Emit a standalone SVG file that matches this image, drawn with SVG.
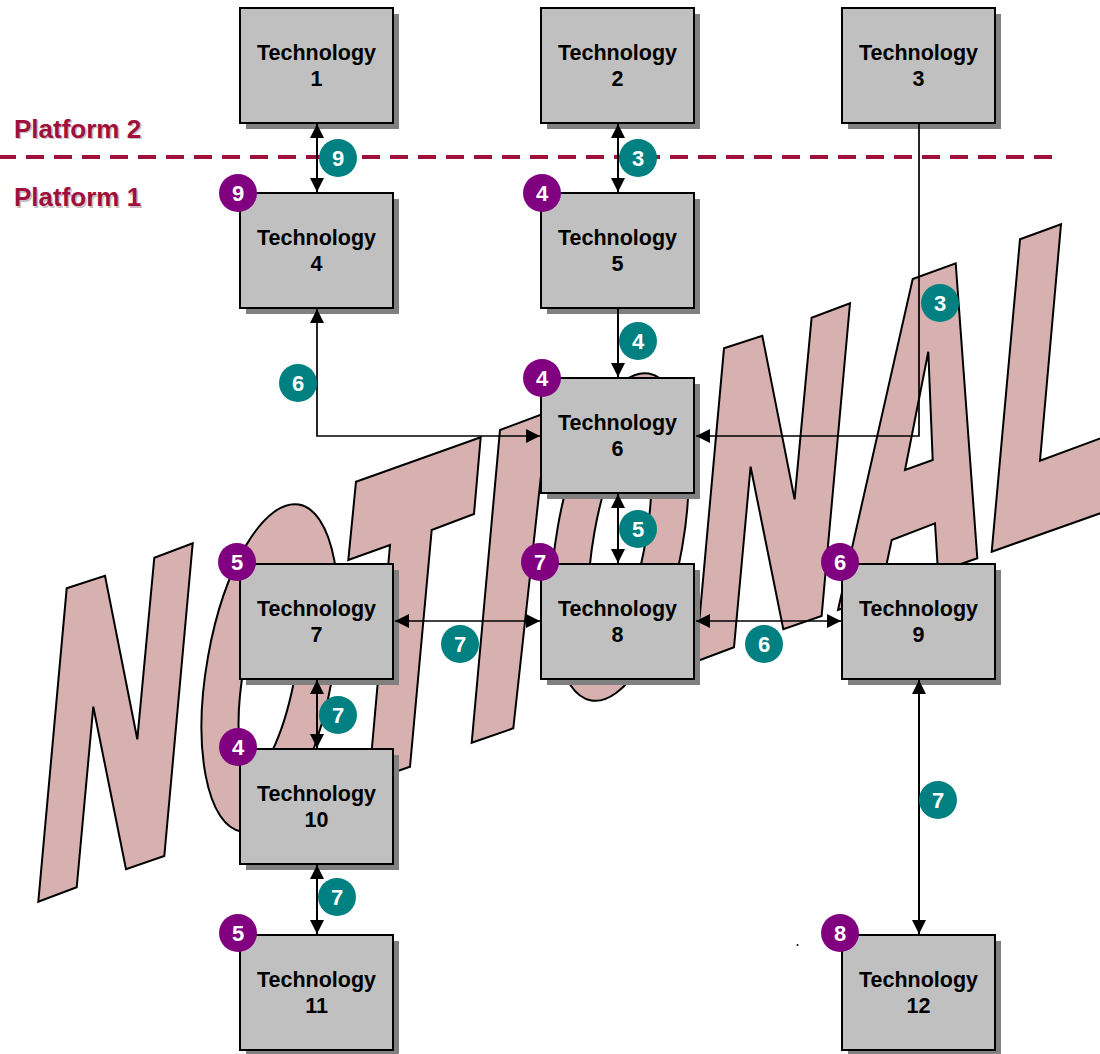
<svg xmlns="http://www.w3.org/2000/svg" width="1100" height="1054" viewBox="0 0 1100 1054">
<style>
.letter{fill:#D7B1B0;stroke:#000;stroke-width:2;stroke-linejoin:miter;fill-rule:evenodd}
.shadow{fill:#808080}
.box{fill:#C0C0C0;stroke:#000;stroke-width:2}
.t{font-family:"Liberation Sans",Arial,sans-serif;font-weight:bold;font-size:21.5px;text-anchor:middle;fill:#000}
.conn{stroke:#000;stroke-width:2;fill:none}
.thin{stroke-width:1.7}
.teal{fill:#008080}
.purple{fill:#800080}
.bn{font-family:"Liberation Sans",Arial,sans-serif;font-weight:bold;font-size:22px;text-anchor:middle;fill:#fff}
.plat{font-family:"Liberation Sans",Arial,sans-serif;font-weight:bold;font-size:26px;fill:#A0103A}
.platsh{font-family:"Liberation Sans",Arial,sans-serif;font-weight:bold;font-size:26px;fill:#C8C0C2}
</style>
<defs>
<marker id="ah" viewBox="0 0 14 14" refX="14" refY="7" markerWidth="14" markerHeight="14" markerUnits="userSpaceOnUse" orient="auto-start-reverse">
<path d="M0,0L14,7L0,14z" fill="#000"/>
</marker>
</defs>
<rect width="1100" height="1054" fill="#fff"/>

<g id="watermark">
<path class="letter" d="M66.7,588.3L105,575.7L137.3,739.3L154.3,557.7L192.7,543.3L164.3,856L126,869.3L93.3,706.7L76.7,887.3L38.3,901.7Z"/>
<path class="letter" transform="rotate(10 270 668)" d="M270,502A63,166 0 1,0 270,834A63,166 0 1,0 270,502ZM270,563A26,105 0 1,0 270,773A26,105 0 1,0 270,563Z"/>
<path class="letter" d="M356,481.7L480.7,437.3L474,514L431.7,530L410,766.7L369,781L390,545L348.3,560Z"/>
<path class="letter" d="M500,430L548,412L513.3,728.3L471.7,742.7Z"/>
<path class="letter" transform="translate(350,-131) rotate(10 270 668)" d="M270,502A63,166 0 1,0 270,834A63,166 0 1,0 270,502ZM270,563A26,105 0 1,0 270,773A26,105 0 1,0 270,563Z"/>
<path class="letter" d="M724,348.3L762.3,335.7L794.6,499.3L811.6,317.7L850,303.3L821.6,616L783.3,629.3L750.6,466.7L734,647.3L695.6,661.7Z"/>
<path class="letter" d="M912.7,279L955.7,263.3L977.3,558.3L938,572L935,523.3L891.7,540L880,595L838,610ZM928.3,351.7L932.7,460L905,470Z"/>
<path class="letter" d="M1020,239.3L1061,224.3L1040,460.7L1104,437L1104,512L991.7,551.7Z"/>
</g>

<g id="platforms">
<line x1="0" y1="157" x2="1056" y2="157" stroke="#A0103A" stroke-width="4" stroke-dasharray="18 10" stroke-dashoffset="2"/>
<text class="platsh" x="15.5" y="139">Platform 2</text>
<text class="plat" x="14" y="137.5">Platform 2</text>
<text class="platsh" x="15.5" y="207.5">Platform 1</text>
<text class="plat" x="14" y="206">Platform 1</text>
</g>

<g id="tech1"><rect class="shadow" x="246" y="14" width="153" height="115"/><rect class="box" x="240" y="8" width="153" height="115"/><text class="t" x="316.5" y="60">Technology</text><text class="t" x="316.5" y="86">1</text></g>
<g id="tech2"><rect class="shadow" x="547" y="14" width="153" height="115"/><rect class="box" x="541" y="8" width="153" height="115"/><text class="t" x="617.5" y="60">Technology</text><text class="t" x="617.5" y="86">2</text></g>
<g id="tech3"><rect class="shadow" x="848" y="14" width="153" height="115"/><rect class="box" x="842" y="8" width="153" height="115"/><text class="t" x="918.5" y="60">Technology</text><text class="t" x="918.5" y="86">3</text></g>
<g id="tech4"><rect class="shadow" x="246" y="199" width="153" height="115"/><rect class="box" x="240" y="193" width="153" height="115"/><text class="t" x="316.5" y="245">Technology</text><text class="t" x="316.5" y="271">4</text><circle class="purple" cx="238" cy="193" r="19"/><text class="bn" x="238" y="201">9</text></g>
<g id="tech5"><rect class="shadow" x="547" y="199" width="153" height="115"/><rect class="box" x="541" y="193" width="153" height="115"/><text class="t" x="617.5" y="245">Technology</text><text class="t" x="617.5" y="271">5</text><circle class="purple" cx="542" cy="193" r="19"/><text class="bn" x="542" y="201">4</text></g>
<g id="tech6"><rect class="shadow" x="547" y="384" width="153" height="115"/><rect class="box" x="541" y="378" width="153" height="115"/><text class="t" x="617.5" y="430">Technology</text><text class="t" x="617.5" y="456">6</text><circle class="purple" cx="542" cy="378" r="19"/><text class="bn" x="542" y="386">4</text></g>
<g id="tech7"><rect class="shadow" x="246" y="570" width="153" height="115"/><rect class="box" x="240" y="564" width="153" height="115"/><text class="t" x="316.5" y="616">Technology</text><text class="t" x="316.5" y="642">7</text><circle class="purple" cx="237" cy="562" r="19"/><text class="bn" x="237" y="570">5</text></g>
<g id="tech8"><rect class="shadow" x="547" y="570" width="153" height="115"/><rect class="box" x="541" y="564" width="153" height="115"/><text class="t" x="617.5" y="616">Technology</text><text class="t" x="617.5" y="642">8</text><circle class="purple" cx="540" cy="562" r="19"/><text class="bn" x="540" y="570">7</text></g>
<g id="tech9"><rect class="shadow" x="848" y="570" width="153" height="115"/><rect class="box" x="842" y="564" width="153" height="115"/><text class="t" x="918.5" y="616">Technology</text><text class="t" x="918.5" y="642">9</text><circle class="purple" cx="840" cy="562" r="19"/><text class="bn" x="840" y="570">6</text></g>
<g id="tech10"><rect class="shadow" x="246" y="755" width="153" height="115"/><rect class="box" x="240" y="749" width="153" height="115"/><text class="t" x="316.5" y="801">Technology</text><text class="t" x="316.5" y="827">10</text><circle class="purple" cx="238" cy="747" r="19"/><text class="bn" x="238" y="755">4</text></g>
<g id="tech11"><rect class="shadow" x="246" y="941" width="153" height="115"/><rect class="box" x="240" y="935" width="153" height="115"/><text class="t" x="316.5" y="987">Technology</text><text class="t" x="316.5" y="1013">11</text><circle class="purple" cx="238" cy="933" r="19"/><text class="bn" x="238" y="941">5</text></g>
<g id="tech12"><rect class="shadow" x="848" y="941" width="153" height="115"/><rect class="box" x="842" y="935" width="153" height="115"/><text class="t" x="918.5" y="987">Technology</text><text class="t" x="918.5" y="1013">12</text><circle class="purple" cx="840" cy="933" r="19"/><text class="bn" x="840" y="941">8</text></g>

<g id="connectors">
<line class="conn" x1="317" y1="124" x2="317" y2="192" marker-start="url(#ah)" marker-end="url(#ah)"/>
<line class="conn" x1="618" y1="124" x2="618" y2="192" marker-start="url(#ah)" marker-end="url(#ah)"/>
<polyline class="conn thin" points="919,124 919,436 696,436" marker-end="url(#ah)"/>
<line class="conn" x1="618" y1="309" x2="618" y2="377" marker-end="url(#ah)"/>
<polyline class="conn thin" points="317,309 317,436 540,436" marker-start="url(#ah)" marker-end="url(#ah)"/>
<line class="conn" x1="618" y1="494" x2="618" y2="563" marker-start="url(#ah)" marker-end="url(#ah)"/>
<line class="conn thin" x1="395" y1="621" x2="540" y2="621" marker-start="url(#ah)" marker-end="url(#ah)"/>
<line class="conn thin" x1="696" y1="621" x2="841" y2="621" marker-start="url(#ah)" marker-end="url(#ah)"/>
<line class="conn" x1="317" y1="680" x2="317" y2="748" marker-start="url(#ah)" marker-end="url(#ah)"/>
<line class="conn" x1="317" y1="865" x2="317" y2="934" marker-start="url(#ah)" marker-end="url(#ah)"/>
<line class="conn" x1="919" y1="680" x2="919" y2="934" marker-start="url(#ah)" marker-end="url(#ah)"/>
</g>

<g id="connector-labels">
<circle class="teal" cx="338" cy="158" r="19"/><text class="bn" x="338" y="166">9</text>
<circle class="teal" cx="638" cy="158" r="19"/><text class="bn" x="638" y="166">3</text>
<circle class="teal" cx="940" cy="303" r="19"/><text class="bn" x="940" y="311">3</text>
<circle class="teal" cx="638" cy="341" r="19"/><text class="bn" x="638" y="349">4</text>
<circle class="teal" cx="298" cy="383" r="19"/><text class="bn" x="298" y="391">6</text>
<circle class="teal" cx="638" cy="529" r="19"/><text class="bn" x="638" y="537">5</text>
<circle class="teal" cx="460" cy="644" r="19"/><text class="bn" x="460" y="652">7</text>
<circle class="teal" cx="764" cy="644" r="19"/><text class="bn" x="764" y="652">6</text>
<circle class="teal" cx="338" cy="715" r="19"/><text class="bn" x="338" y="723">7</text>
<circle class="teal" cx="938" cy="800" r="19"/><text class="bn" x="938" y="808">7</text>
<circle class="teal" cx="337" cy="897" r="19"/><text class="bn" x="337" y="905">7</text>
</g>
<circle cx="797.5" cy="945" r="1" fill="#000"/>
</svg>
